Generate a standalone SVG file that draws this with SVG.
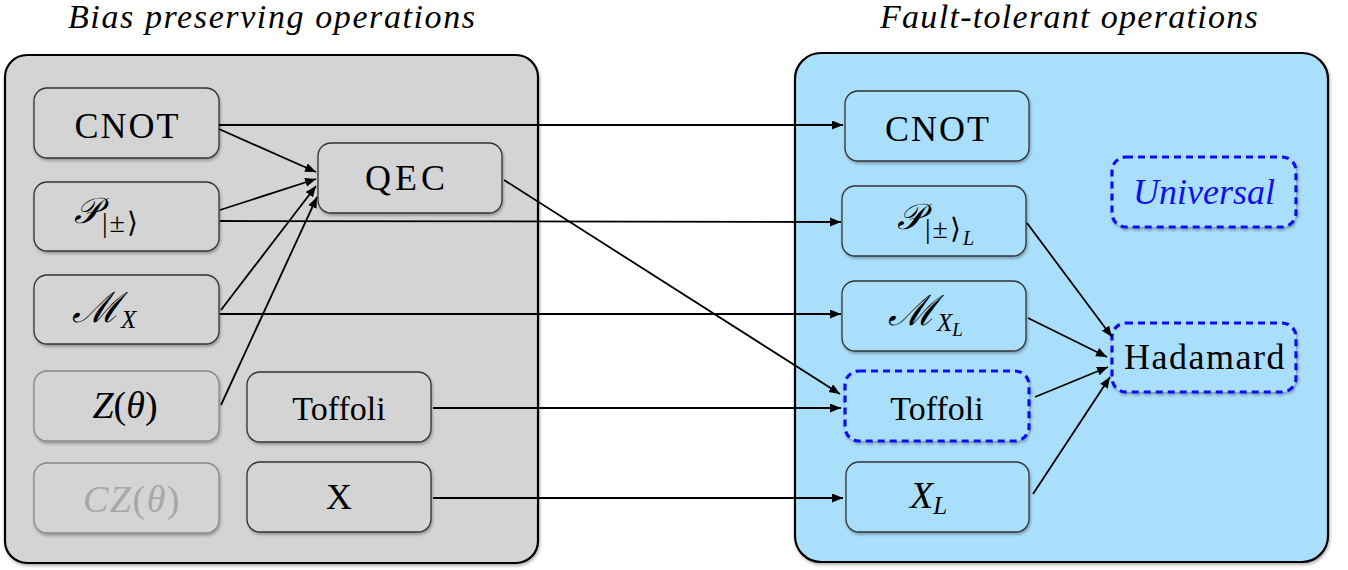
<svg xmlns="http://www.w3.org/2000/svg" width="1348" height="570" viewBox="0 0 1348 570">
<defs>
<filter id="sh" x="-10%" y="-10%" width="130%" height="140%">
<feDropShadow dx="1" dy="2" stdDeviation="1.5" flood-color="#000" flood-opacity="0.3"/>
</filter>
<marker id="ah" markerUnits="userSpaceOnUse" markerWidth="12" markerHeight="10" refX="11" refY="4.5" orient="auto">
<path d="M0,0 L11,4.5 L0,9 z" fill="#000"/>
</marker>
</defs>
<style>
text{font-family:'Liberation Serif','Times New Roman',serif}
.t{font-style:normal;fill:#000}
.ti{font-style:italic;fill:#000}
.big{font-size:36px}
.sub{font-size:25px}
.cont{stroke:#000;stroke-width:2.2}
.nd{stroke:#333;stroke-width:1.3;filter:url(#sh)}
.nl{stroke:#888;stroke-width:1.3;filter:url(#sh)}
.gr{fill:#d4d4d4}
.bl{fill:#aadffc}
.dash{stroke:#1010ee;stroke-width:3.2;stroke-dasharray:7 5;filter:url(#sh)}
.cn line{stroke:#000;stroke-width:1.8;marker-end:url(#ah)}
</style>
<rect width="1348" height="570" fill="#fff"/>
<text class="ti" x="68" y="28" font-size="34" letter-spacing="1.6">Bias preserving operations</text>
<text class="ti" x="880" y="28" font-size="34" letter-spacing="1.3">Fault-tolerant operations</text>
<g id="left-panel"><rect class="cont gr" x="5" y="55" width="533" height="508" rx="22" filter="url(#sh)"/></g>
<g id="right-panel"><rect class="cont bl" x="795" y="53" width="533" height="509" rx="26" filter="url(#sh)"/></g>
<g id="cnot-l"><rect class="nd gr" x="34" y="88" width="185" height="70" rx="13"/><text class="t big" x="127.5" y="138" text-anchor="middle" letter-spacing="2">CNOT</text></g>
<g id="p-l"><rect class="nd gr" x="34" y="182" width="185" height="69" rx="13"/><text class="ti big" x="74" y="223">𝒫<tspan class="t" font-size="28" letter-spacing="2" dx="2" dy="9">|±⟩</tspan></text></g>
<g id="mx-l"><rect class="nd gr" x="34" y="275" width="185" height="69" rx="13"/><text class="ti" font-size="42" x="72" y="322">ℳ<tspan class="sub" dy="6">X</tspan></text></g>
<g id="z-l"><rect class="nl gr" x="34" y="371" width="185" height="70" rx="13"/><text class="ti" font-size="38" x="125" y="418" text-anchor="middle">Z<tspan class="t">(</tspan>θ<tspan class="t">)</tspan></text></g>
<g id="cz-l"><rect class="nl gr" x="34" y="463" width="185" height="70" rx="13"/><text class="ti" font-size="38" letter-spacing="1.5" x="132" y="512" text-anchor="middle" style="fill:#a8a8a8">CZ<tspan class="t" style="fill:#a8a8a8">(</tspan>θ<tspan class="t" style="fill:#a8a8a8">)</tspan></text></g>
<g id="qec"><rect class="nd gr" x="318" y="143" width="184" height="70" rx="13"/><text class="t big" x="407" y="190" text-anchor="middle" letter-spacing="4">QEC</text></g>
<g id="toffoli-l"><rect class="nd gr" x="247" y="372" width="184" height="70" rx="13"/><text class="t" font-size="34" x="339" y="420" text-anchor="middle">Toffoli</text></g>
<g id="x-l"><rect class="nd gr" x="247" y="462" width="184" height="70" rx="13"/><text class="t big" x="339" y="509" text-anchor="middle">X</text></g>
<g id="cnot-r"><rect class="nd bl" x="845" y="91" width="184" height="70" rx="13"/><text class="t big" x="938" y="141" text-anchor="middle" letter-spacing="2">CNOT</text></g>
<g id="p-r"><rect class="nd bl" x="842" y="186" width="184" height="70" rx="13"/><text class="ti big" x="897" y="229">𝒫<tspan class="t" font-size="28" letter-spacing="2" dx="2" dy="9">|±⟩</tspan><tspan font-size="20" dy="7">L</tspan></text></g>
<g id="mx-r"><rect class="nd bl" x="842" y="281" width="184" height="70" rx="13"/><text class="ti" font-size="42" x="888" y="325">ℳ<tspan class="sub" dy="6">X</tspan><tspan font-size="19" dy="5">L</tspan></text></g>
<g id="toffoli-r"><rect class="dash bl" x="845" y="371" width="184" height="70" rx="14"/><text class="t" font-size="34" x="937" y="420" text-anchor="middle">Toffoli</text></g>
<g id="x-r"><rect class="nd bl" x="846" y="462" width="183" height="70" rx="13"/><text class="ti" font-size="38" x="910" y="508">X<tspan class="sub" dy="6">L</tspan></text></g>
<g id="universal"><rect class="dash bl" x="1112" y="157" width="184" height="70" rx="14"/><text class="ti big" x="1204" y="204" text-anchor="middle" style="fill:#1010ee">Universal</text></g>
<g id="hadamard"><rect class="dash bl" x="1112" y="323" width="184" height="69" rx="14"/><text class="t big" x="1205" y="369" text-anchor="middle" letter-spacing="1.5">Hadamard</text></g>
<g id="connectors" class="cn">
<line x1="219" y1="125" x2="843" y2="125"/>
<line x1="219" y1="129" x2="316" y2="172"/>
<line x1="220" y1="210" x2="316" y2="179"/>
<line x1="220" y1="221" x2="841" y2="222"/>
<line x1="221" y1="310" x2="316" y2="186"/>
<line x1="220" y1="314" x2="841" y2="314"/>
<line x1="221" y1="405" x2="317" y2="197"/>
<line x1="504" y1="180" x2="840" y2="394"/>
<line x1="433" y1="408" x2="841" y2="408"/>
<line x1="433" y1="498" x2="843" y2="498"/>
<line x1="1027" y1="223" x2="1112" y2="337"/>
<line x1="1028" y1="318" x2="1107" y2="357"/>
<line x1="1035" y1="397" x2="1108" y2="367"/>
<line x1="1033" y1="494" x2="1110" y2="377"/>
</g>
</svg>
